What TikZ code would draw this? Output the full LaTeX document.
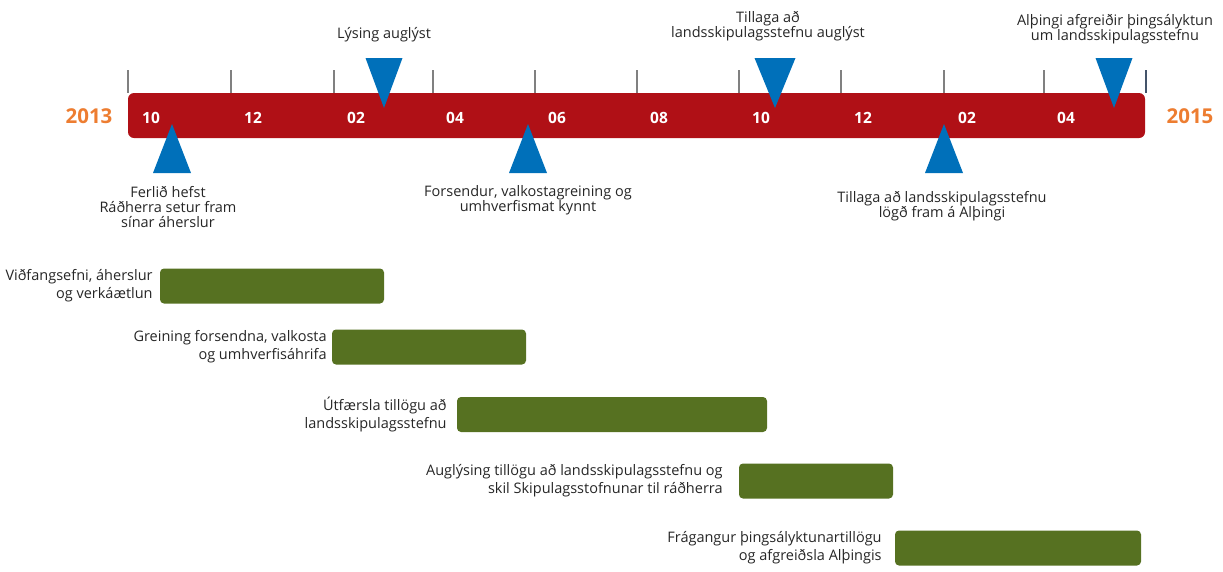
\documentclass[tikz,border=0pt]{standalone}
\usepackage{fontspec}
\setmainfont{Open Sans}
\usetikzlibrary{positioning}
\definecolor{barred}{RGB}{176,16,22}
\definecolor{taskgreen}{RGB}{86,113,33}
\definecolor{markblue}{RGB}{0,112,186}
\definecolor{yearorange}{RGB}{237,125,49}
\definecolor{tickgray}{RGB}{128,128,128}
\definecolor{endtick}{RGB}{68,84,106}
\definecolor{txtgray}{RGB}{38,38,38}

\begin{document}
\begin{tikzpicture}[x=1pt,y=-1pt,
  every node/.style={inner sep=0pt,text=txtgray,font=\fontsize{14.5}{15}\selectfont},
  note/.style={align=center},
  task/.style={fill=taskgreen,rounded corners=4pt,minimum height=35pt},
  tasklabel/.style={align=right,font=\fontsize{14.5}{18}\selectfont},
  month/.style={text=white,font=\bfseries\fontsize{15.5}{16}\selectfont},
  year/.style={text=yearorange,font=\bfseries\fontsize{20.5}{22}\selectfont},
  tickline/.style={tickgray,line width=2.5pt},
  milestone/.style={fill=markblue}]
\useasboundingbox (0,0) rectangle (1223,571);
% ticks and timeline
\foreach \x in {128,231,334,433,535,637,739,841,944,1044}
  \draw[tickline] (\x,70) -- (\x,93);
\draw[tickline,endtick] (1146,70) -- (1146,93);
\node[fill=barred,rounded corners=6pt,minimum width=1017pt,minimum height=45pt] (bar) at (636.5,115.5) {};
\foreach \x/\m in {151/10,253/12,356/02,455/04,557/06,659/08,761/10,863/12,967/02,1066/04}
  \node[month] (m\x) at (\x,118) {\m};
\node[year] (y13) at (89,116) {2013};
\node[year] (y15) at (1190,116) {2015};
% milestones above
\fill[milestone] (384,108) -- ++(-18.5,-50) -- ++(37,0) -- cycle;
\fill[milestone] (775,108) -- ++(-20.5,-50) -- ++(41,0) -- cycle;
\fill[milestone] (1114,108) -- ++(-18.5,-50) -- ++(37,0) -- cycle;
\node[note] (lysing) at (384,35) {Lýsing auglýst};
\node[note] (tillaug) at (768,26) {Tillaga að\\landsskipulagsstefnu auglýst};
\node[note] (althing) at (1115,29) {Alþingi afgreiðir þingsályktun\\um landsskipulagsstefnu};
% milestones below
\fill[milestone] (172,124) -- ++(-19,49) -- ++(38,0) -- cycle;
\fill[milestone] (528,124) -- ++(-19,49) -- ++(38,0) -- cycle;
\fill[milestone] (944,124) -- ++(-19,49) -- ++(38,0) -- cycle;
\node[note] (ferlid) at (168,207) {Ferlið hefst\\Ráðherra setur fram\\sínar áherslur};
\node[note] (forsend) at (528,200) {Forsendur, valkostagreining og\\umhverfismat kynnt};
\node[note] (tillagd) at (942,206) {Tillaga að landsskipulagsstefnu\\lögð fram á Alþingi};
% tasks
\node[task,minimum width=224pt] (t1) at (272,286) {};
\node[task,minimum width=194pt] (t2) at (429,347) {};
\node[task,minimum width=310pt] (t3) at (612,414.5) {};
\node[task,minimum width=154pt] (t4) at (816,481) {};
\node[task,minimum width=246pt] (t5) at (1018,548) {};
\node[tasklabel,left=7pt of t1] (l1) {Viðfangsefni, áherslur\\og verkáætlun};
\node[tasklabel,left=5pt of t2] (l2) {Greining forsendna, valkosta\\og umhverfisáhrifa};
\node[tasklabel,left=10pt of t3] (l3) {Útfærsla tillögu að\\landsskipulagsstefnu};
\node[tasklabel,left=16pt of t4] (l4) {Auglýsing tillögu að landsskipulagsstefnu og\\skil Skipulagsstofnunar til ráðherra};
\node[tasklabel,left=13pt of t5] (l5) {Frágangur þingsályktunartillögu\\og afgreiðsla Alþingis};
\end{tikzpicture}
\end{document}
